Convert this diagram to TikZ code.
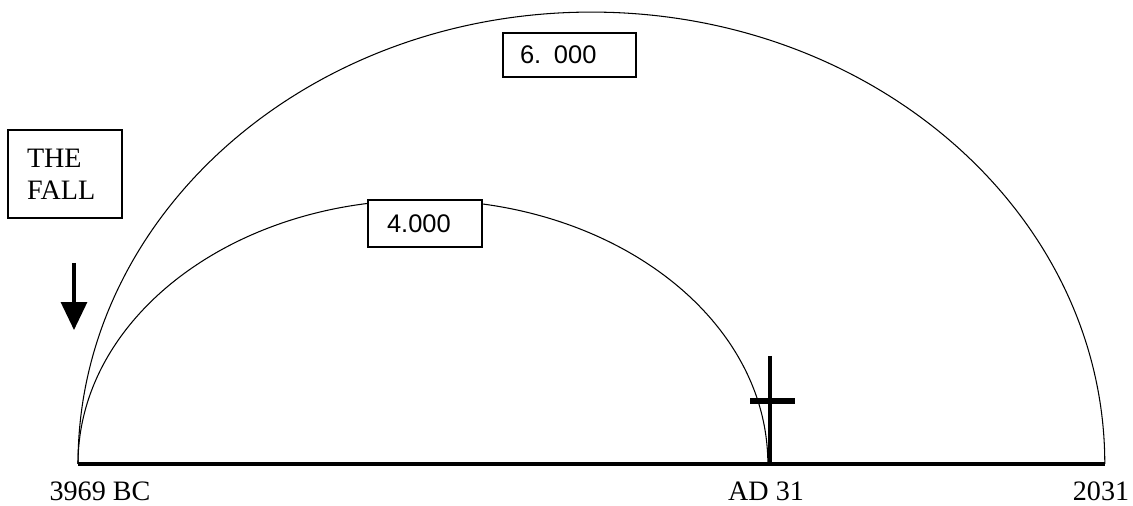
\documentclass[tikz,border=0pt]{standalone}
\usepackage{fontspec}
\setmainfont{Liberation Serif}
\newfontfamily\numfont{Liberation Sans}
\usetikzlibrary{arrows.meta,calc,positioning}

\begin{document}
\begin{tikzpicture}[x=0.02cm,y=-0.02cm,font=\fontsize{16}{18}\selectfont,
    labelbox/.style={draw,line width=0.8pt,inner ysep=0pt,align=left},
    numtext/.style={font=\fontsize{14.5}{16}\selectfont\numfont},
    axis/.style={line width=2.8pt},
    span/.style={line width=0.6pt}]
  \useasboundingbox (0,0) rectangle (1133,506);
  % time line
  \coordinate (bc) at (78,464);
  \coordinate (ad) at (770,464);
  \coordinate (end) at (1105,464);
  \draw[span] (bc) arc[start angle=180,end angle=0,x radius=10.27cm,y radius=9.04cm];
  \draw[span] (bc) arc[start angle=180,end angle=0,x radius=6.9cm,y radius=5.28cm];
  \draw[axis] (bc) -- (end);
  \node (bclab) at (100,491) {3969 BC};
  \node (adlab) at (766,491) {AD 31};
  \node (endlab) at (1101,491) {2031};
  % boxes
  \node[labelbox,numtext,fill=white,minimum height=0.88cm,inner xsep=0.34cm,text width=1.98cm] (six) at (569.5,55) {6. 000};
  \node[labelbox,numtext,fill=white,minimum height=0.94cm,inner xsep=0.38cm,text width=1.52cm] (four) at (425,223.5) {4.000};
  \node[labelbox,minimum height=1.76cm,inner xsep=0.38cm,text width=1.52cm] (fall) at (65,174) {THE\\FALL};
  % arrow and cross
  \coordinate (fallA) at (74,263);
  \coordinate (fallB) at (74,330);
  \draw[-{Triangle[width=0.52cm,length=0.56cm]},line width=1.8pt] (fallA) -- (fallB);
  \coordinate (crossT) at (770,356);
  \coordinate (barL) at (750,401);
  \coordinate (barR) at (795,401);
  \draw[line width=2.8pt] (crossT) -- (ad);
  \draw[line width=3.2pt] (barL) -- (barR);
\end{tikzpicture}
\end{document}
